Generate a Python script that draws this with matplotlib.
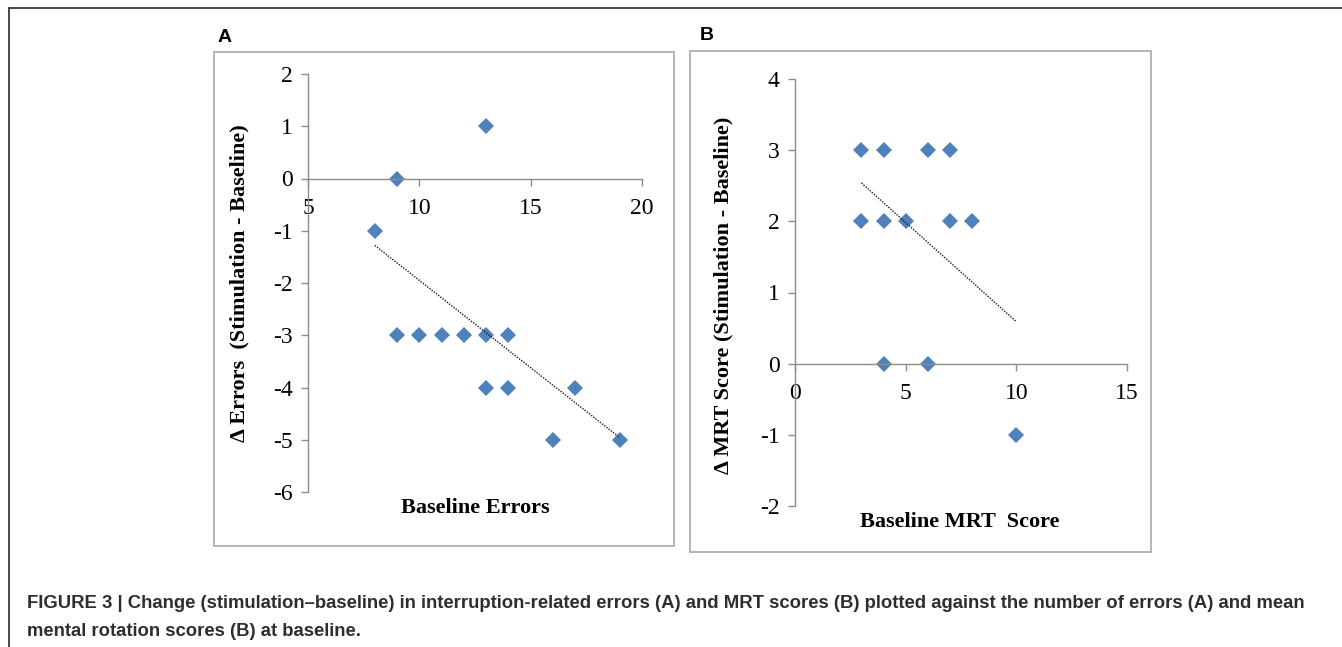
import numpy as np
import matplotlib
matplotlib.use("Agg")
import matplotlib.pyplot as plt
from matplotlib.lines import Line2D
from matplotlib.patches import Rectangle

# Panel A: baseline errors vs change in errors
errors_base = [13, 9, 8, 9, 10, 11, 12, 13, 14, 13, 14, 17, 16, 19]
errors_delta = [1, 0, -1, -3, -3, -3, -3, -3, -3, -4, -4, -4, -5, -5]

# Panel B: baseline MRT score vs change in MRT score
mrt_base = [3, 4, 6, 7, 3, 4, 5, 7, 8, 4, 6, 10]
mrt_delta = [3, 3, 3, 3, 2, 2, 2, 2, 2, 0, 0, -1]
# trend line of panel B (end points)
mrt_trend_x = [3, 10]
mrt_trend_y = [2.54, 0.59]

ticks_a_x = [5, 10, 15, 20]
ticks_a_y = [-6, -5, -4, -3, -2, -1, 0, 1, 2]
ticks_b_x = [0, 5, 10, 15]
ticks_b_y = [-2, -1, 0, 1, 2, 3, 4]

caption_1 = ("FIGURE 3 | Change (stimulation\u2013baseline) in interruption-related errors (A) "
             "and MRT scores (B) plotted against the number of errors (A) and mean")
caption_2 = "mental rotation scores (B) at baseline."

W, H = 1342, 647
BLUE = "#4f81bd"
AXIS_GREY = "#8c8c8c"
SERIF = ["Liberation Serif", "DejaVu Serif"]
SANS = ["Liberation Sans", "DejaVu Sans"]

plt.rcParams["axes.unicode_minus"] = False

fig = plt.figure(figsize=(W / 100, H / 100), dpi=100)


def px_box(x0, y0, x1, y1):
    # pixel box (top-left origin) -> figure fraction rect
    return [x0 / W, 1 - y1 / H, (x1 - x0) / W, (y1 - y0) / H]


# outer frame (top and left edges)
fig.add_artist(Line2D([9 / W, 9 / W], [0, 1 - 8 / H], color="#3a3a3a", lw=1.3))
fig.add_artist(Line2D([9 / W, 1], [1 - 8 / H, 1 - 8 / H], color="#3a3a3a", lw=1.3))

# panel boxes
for x0, y0, x1, y1 in [(214, 52, 674, 546), (690, 51, 1151, 552)]:
    r = px_box(x0, y0, x1, y1)
    fig.add_artist(Rectangle((r[0], r[1]), r[2], r[3], transform=fig.transFigure,
                             fill=False, edgecolor="#b4b4b4", lw=1.4))

fig.text(218 / W, 1 - 37 / H, "A", family=SANS, fontweight="bold", fontsize=14,
         ha="left", va="center")
fig.text(700 / W, 1 - 36 / H, "B", family=SANS, fontweight="bold", fontsize=14,
         ha="left", va="center")


def style_axes(ax, xlim, ylim, xticks, yticks):
    ax.set_xlim(*xlim)
    ax.set_ylim(*ylim)
    ax.set_xticks(xticks)
    ax.set_yticks(yticks)
    ax.spines["top"].set_visible(False)
    ax.spines["right"].set_visible(False)
    ax.spines["bottom"].set_position(("data", 0))
    for s in ("left", "bottom"):
        ax.spines[s].set_color(AXIS_GREY)
        ax.spines[s].set_linewidth(1.0)
    ax.tick_params(direction="out", length=5, width=1.0, color=AXIS_GREY,
                   labelsize=17, pad=6)
    for lab in ax.get_xticklabels() + ax.get_yticklabels():
        lab.set_family(SERIF)
    ax.patch.set_alpha(0)


# Panel A
ax1 = fig.add_axes(px_box(308, 74, 642, 492))
ax1.plot(errors_base, errors_delta, "D", color=BLUE, markersize=7.8, markeredgewidth=0)
fit = np.polyfit(errors_base, errors_delta, 1)
xs = np.array([min(errors_base), max(errors_base)])
ax1.plot(xs, np.polyval(fit, xs), color="#1a1a1a", lw=1.0, ls=(0, (1, 1)))
style_axes(ax1, (5, 20), (-6, 2), ticks_a_x, ticks_a_y)
ax1.tick_params(axis="x", pad=9)
fig.text(475 / W, 1 - 508 / H, "Baseline Errors", family=SERIF, fontweight="bold",
         fontsize=16, ha="center", va="center")
fig.text(239 / W, 1 - 283 / H, "\u0394 Errors  (Stimulation - Baseline)", family=SERIF,
         fontweight="bold", fontsize=16, ha="center", va="center", rotation=90)

# Panel B
ax2 = fig.add_axes(px_box(795, 79, 1127, 506))
ax2.plot(mrt_base, mrt_delta, "D", color=BLUE, markersize=7.8, markeredgewidth=0)
ax2.plot(mrt_trend_x, mrt_trend_y, color="#1a1a1a", lw=1.0, ls=(0, (1, 1)))
style_axes(ax2, (0, 15), (-2, 4), ticks_b_x, ticks_b_y)
ax2.tick_params(axis="x", pad=9)
fig.text(960 / W, 1 - 522 / H, "Baseline MRT  Score", family=SERIF, fontweight="bold",
         fontsize=16, ha="center", va="center")
fig.text(723 / W, 1 - 295 / H, "\u0394 MRT Score (Stimulation - Baseline)", family=SERIF,
         fontweight="bold", fontsize=16, ha="center", va="center", rotation=90)

# caption
fig.text(27 / W, 1 - 608 / H, caption_1, family=SANS, fontweight="bold", fontsize=13.3,
         color="#2e2e2e", ha="left", va="baseline")
fig.text(27 / W, 1 - 636 / H, caption_2, family=SANS, fontweight="bold", fontsize=13.3,
         color="#2e2e2e", ha="left", va="baseline")

fig.savefig("out.png", dpi=100)
